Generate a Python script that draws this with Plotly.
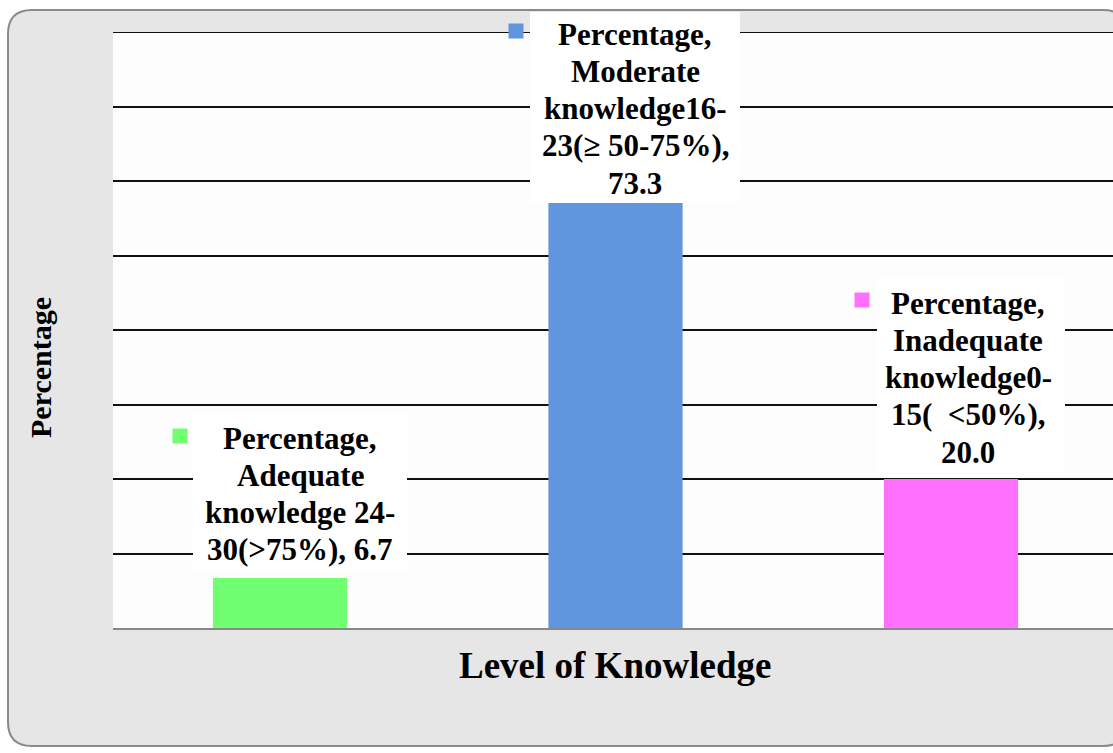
import plotly.graph_objects as go

# ---- data ----
categories = ["Adequate knowledge 24-30(>75%)",
              "Moderate knowledge16-23(≥ 50-75%)",
              "Inadequate knowledge0-15(  <50%)"]
values = [6.7, 73.3, 20.0]
colors = ["#70ff70", "#5f96dd", "#ff70ff"]
label_lines = [
    ["Percentage,", "Adequate", "knowledge 24-", "30(>75%), 6.7"],
    ["Percentage,", "Moderate", "knowledge16-", "23(≥ 50-75%),", "73.3"],
    ["Percentage,", "Inadequate", "knowledge0-", "15(  <50%),", "20.0"],
]
y_title = "Percentage"
x_title = "Level of Knowledge"
y_max = 80
y_step = 10

# ---- layout geometry (pixels) ----
W, H = 1113, 753
L, R, T, B = 113, 1113, 32, 628


def px(x):
    return (x - L) / (R - L)


def py(y):
    return (B - y) / (B - T)


FONT = "'Liberation Serif', 'Times New Roman', serif"

fig = go.Figure()
fig.add_trace(go.Bar(
    x=list(range(len(categories))), y=values,
    marker=dict(color=colors, line=dict(width=0)),
    width=0.4, hovertext=categories, showlegend=False,
))

shapes = []
# outer rounded frame
fl, ft, fr, fb, r = 8, 10, 1127, 746, 24
path = (f"M {px(fl+r)},{py(ft)} L {px(fr-r)},{py(ft)} "
        f"Q {px(fr)},{py(ft)} {px(fr)},{py(ft+r)} "
        f"L {px(fr)},{py(fb-r)} Q {px(fr)},{py(fb)} {px(fr-r)},{py(fb)} "
        f"L {px(fl+r)},{py(fb)} Q {px(fl)},{py(fb)} {px(fl)},{py(fb-r)} "
        f"L {px(fl)},{py(ft+r)} Q {px(fl)},{py(ft)} {px(fl+r)},{py(ft)} Z")
shapes.append(dict(type="path", path=path, xref="paper", yref="paper",
                   fillcolor="#e6e6e6", line=dict(color="#8a8a8a", width=2),
                   layer="below"))
# white plot area
shapes.append(dict(type="rect", xref="paper", yref="paper", x0=0, x1=1.02,
                   y0=0, y1=1, fillcolor="#fdfdfd", line=dict(width=0),
                   layer="below"))
# top gridline at the range maximum
shapes.append(dict(type="line", xref="paper", yref="y", x0=0, x1=1.02,
                   y0=y_max, y1=y_max, line=dict(color="#111111", width=2),
                   layer="below"))

# label boxes (pixel positions)
boxes = [  # x0, x1, y0, y1, text center x, first line center y, marker center
    (193, 407, 413, 570, 300, 438, (180, 436)),
    (530, 740, 12, 203, 635, 34, (516, 31)),
    (877, 1065, 278, 472, 968, 303, (862, 300)),
]
annotations = []
LS = 37.3
for i, (x0, x1, y0, y1, cx, cy, (mx, my)) in enumerate(boxes):
    shapes.append(dict(type="rect", xref="paper", yref="paper",
                       x0=px(x0), x1=px(x1), y0=py(y1), y1=py(y0),
                       fillcolor="white", line=dict(width=0), layer="above"))
    shapes.append(dict(type="rect", xref="paper", yref="paper",
                       x0=px(mx - 7.5), x1=px(mx + 7.5),
                       y0=py(my + 7.5), y1=py(my - 7.5),
                       fillcolor=colors[i], line=dict(width=0), layer="above"))
    for k, line in enumerate(label_lines[i]):
        annotations.append(dict(
            text=f"<b>{line}</b>", xref="paper", yref="paper",
            x=px(cx), y=py(cy + k * LS), xanchor="center", yanchor="middle",
            showarrow=False, font=dict(family=FONT, size=31, color="black")))

annotations.append(dict(text=f"<b>{y_title}</b>", xref="paper", yref="paper",
                        x=px(40), y=py(368), textangle=-90, showarrow=False,
                        xanchor="center", yanchor="middle",
                        font=dict(family=FONT, size=30, color="black")))
annotations.append(dict(text=f"<b>{x_title}</b>", xref="paper", yref="paper",
                        x=px(615), y=py(665), showarrow=False,
                        xanchor="center", yanchor="middle",
                        font=dict(family=FONT, size=37, color="black")))

# x range: category centers at 280, 616, 951 px
ppu = (951 - 280) / 2.0
x_lo = (L - 280) / ppu
x_hi = (R - 280) / ppu

fig.update_layout(
    width=W, height=H,
    margin=dict(l=L, r=W - R, t=T, b=H - B, pad=0),
    paper_bgcolor="white", plot_bgcolor="rgba(0,0,0,0)",
    shapes=shapes, annotations=annotations,
    xaxis=dict(range=[x_lo, x_hi], showticklabels=False, showgrid=False,
               zeroline=False, showline=True, linecolor="#888888",
               linewidth=2, ticks="", fixedrange=True),
    yaxis=dict(range=[0, y_max], dtick=y_step, tick0=0, showticklabels=False,
               showgrid=True, gridcolor="#111111", gridwidth=2,
               zeroline=False, showline=False, ticks="", fixedrange=True),
    showlegend=False,
)

fig.write_html("out.html", config={"displayModeBar": False},
               post_script="document.body.style.margin='0px';"
                           "document.body.style.overflow='hidden';")
